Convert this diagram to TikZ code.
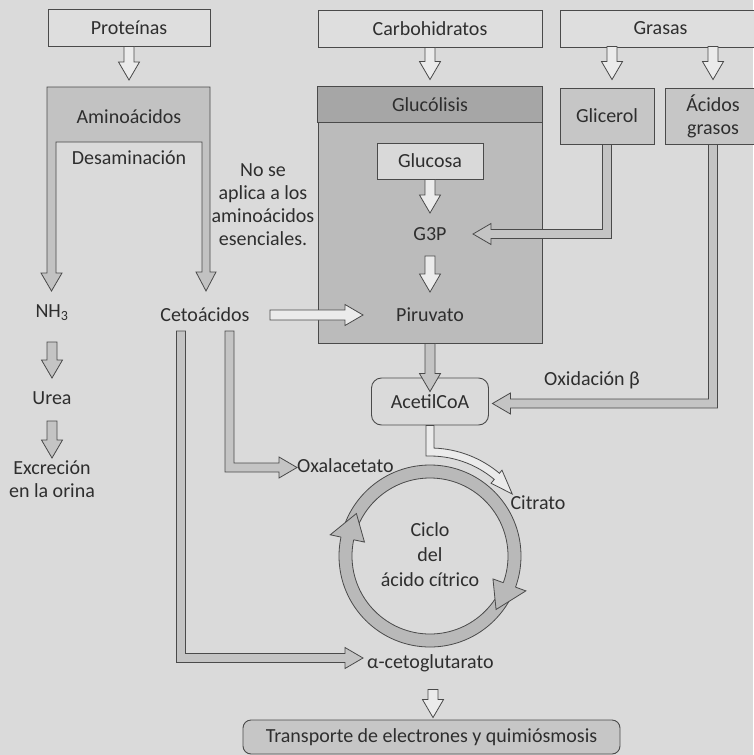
\documentclass[tikz,border=0pt]{standalone}
\usepackage{fontspec}
\setmainfont{Carlito}
\usetikzlibrary{calc}
\definecolor{bg}{HTML}{DADADA}
\definecolor{ink}{HTML}{2E2E2E}
\definecolor{ln}{HTML}{4A4A4A}
\definecolor{lightbox}{HTML}{DEDEDE}
\definecolor{band}{HTML}{C2C2C2}
\definecolor{glyhead}{HTML}{A6A6A6}
\definecolor{glybody}{HTML}{BBBBBB}
\definecolor{glucfill}{HTML}{D9D9D9}
\definecolor{sidebox}{HTML}{C6C6C6}
\definecolor{hollow}{HTML}{EBEBEB}
\definecolor{solid}{HTML}{C4C4C4}
\definecolor{ringfill}{HTML}{B9B9B9}
\definecolor{transfill}{HTML}{C6C6C6}
% vertical block arrow: start, tip
\newcommand{\vba}[3][]{%
 \path[blk,#1] let \p1=#2, \p2=#3, \n1={sign(\y2-\y1)} in
  (\x1-5pt,\y1) -- (\x1-5pt,\y2-\n1*18pt) -- (\x1-10.5pt,\y2-\n1*18pt) -- (\x1,\y2)
  -- (\x1+10.5pt,\y2-\n1*18pt) -- (\x1+5pt,\y2-\n1*18pt) -- (\x1+5pt,\y1) -- cycle;}
% horizontal block arrow: start, tip
\newcommand{\hba}[3][]{%
 \path[blk,#1] let \p1=#2, \p2=#3, \n1={sign(\x2-\x1)} in
  (\x1,\y1-5pt) -- (\x2-\n1*18pt,\y1-5pt) -- (\x2-\n1*18pt,\y1-10.5pt) -- (\x2,\y1)
  -- (\x2-\n1*18pt,\y1+10.5pt) -- (\x2-\n1*18pt,\y1+5pt) -- (\x1,\y1+5pt) -- cycle;}
% elbow block arrow: down from start, then sideways to tip
\newcommand{\eba}[3][]{%
 \path[blk,#1] let \p1=#2, \p2=#3, \n1={sign(\x2-\x1)} in
  (\x1-\n1*4.5pt,\y1) -- (\x1-\n1*4.5pt,\y2-4.5pt) -- (\x2-\n1*18pt,\y2-4.5pt)
  -- (\x2-\n1*18pt,\y2-10.5pt) -- (\x2,\y2) -- (\x2-\n1*18pt,\y2+10.5pt)
  -- (\x2-\n1*18pt,\y2+4.5pt) -- (\x1+\n1*4.5pt,\y2+4.5pt) -- (\x1+\n1*4.5pt,\y1) -- cycle;}
\begin{document}
\begin{tikzpicture}[x=1pt,y=-1pt,
  font=\fontsize{20}{23}\selectfont,
  blk/.style={draw=ln,line width=0.8pt,line join=miter,fill=hollow},
  sol/.style={fill=solid},
  lbl/.style={inner sep=0pt,text=ink,align=center},
  box/.style={draw=ln,line width=0.9pt,inner sep=0pt,text=ink,align=center},
]
\useasboundingbox (0,0) rectangle (753,755);
\fill[bg] (0,0) rectangle (753,755);

% ---------- top boxes ----------
\node[box,fill=lightbox,minimum width=162pt,minimum height=37pt] (prot) at (129,27.5) {Proteínas};
\node[box,fill=lightbox,minimum width=224pt,minimum height=37pt] (carb) at (430,28.5) {Carbohidratos};
\node[box,fill=lightbox,minimum width=201pt,minimum height=37pt] (gras) at (660.5,28.5) {Grasas};

% ---------- glycolysis box ----------
\node[box,fill=glybody,minimum width=224pt,minimum height=256pt] (glyc) at (430,215) {};
\draw[ln,line width=0.9pt,fill=glyhead] (glyc.north west) rectangle ($(glyc.north east)+(0,36)$);
\node[lbl] (glytit) at (430,105) {Glucólisis};
\node[box,fill=glucfill,minimum width=106pt,minimum height=36pt] (gluc) at (430,161) {Glucosa};
\node[lbl] (g3p) at (430,234) {G3P};
\node[lbl] (piru) at (430,315) {Piruvato};

% ---------- side boxes ----------
\node[box,fill=sidebox,minimum width=94pt,minimum height=56pt] (glic) at (607,116) {Glicerol};
\node[box,fill=sidebox,minimum width=96pt,minimum height=56pt,font=\fontsize{20}{23}\selectfont] (acid) at (713,116) {Ácidos\\grasos};

% ---------- aminoacid band ----------
\path[blk,fill=band] (47,87) -- (210,87) -- (210,272) -- (216,272) -- (206,291) -- (196,272)
  -- (202,272) -- (202,142) -- (56,142) -- (56,273) -- (62,273) -- (51.5,291) -- (41,273)
  -- (47,273) -- cycle;
\node[lbl] (amino) at (129,117) {Aminoácidos};
\node[lbl] (desam) at (129,158) {Desaminación};

% ---------- left column ----------
\node[lbl] (nh3) at (52,313) {NH\textsubscript{3}};
\node[lbl] (urea) at (52,398) {Urea};
\node[lbl] (excr) at (52,479) {Excreción\\en la orina};
\node[lbl] (ceto) at (205,315) {Cetoácidos};
\node[lbl] (note) at (263,205) {No se\\aplica a los\\aminoácidos\\esenciales.};

% ---------- cycle ----------
\node[box,fill=none,rounded corners=10pt,minimum width=117pt,minimum height=47pt] (acoa) at (430,401.5) {AcetilCoA};
\node[lbl] (oxid) at (592,380) {Oxidación β};
\node[lbl,anchor=west] (oxal) at (297,466) {Oxalacetato};
\node[lbl] (citr) at (538,503) {Citrato};
\coordinate (ringc) at (430,556);
\node[lbl,anchor=west] (aceto) at (367,663) {α-cetoglutarato};
\node[box,fill=transfill,rounded corners=8pt,minimum width=377pt,minimum height=34pt] (transp) at (431.5,737) {Transporte de electrones y quimiósmosis};

% ---------- block arrows ----------
\vba{(prot.south)}{($(amino.center)+(0,-37)$)}
\vba{(carb.south)}{($(glyc.north)+(0,-7)$)}
\vba{($(glic.north)+(5,-41)$)}{($(glic.north)+(5,-8)$)}
\vba{($(acid.north)+(0,-41)$)}{($(acid.north)+(0,-8)$)}
\vba{(gluc.south)}{($(g3p.center)+(0,-21)$)}
\vba{($(g3p.center)+(0,22)$)}{($(piru.center)+(0,-23)$)}
\hba{($(ceto.center)+(65,0)$)}{($(piru.center)+(-67,0)$)}
\eba[sol]{(glic.south)}{($(g3p.center)+(43,0)$)}
\eba[sol]{(acid.south)}{($(acoa.east)+(3.5,2)$)}
\vba[sol]{(glyc.south)}{($(acoa.north)+(0,14)$)}
\vba[sol]{($(nh3.center)+(0,29)$)}{($(urea.center)+(0,-20)$)}
\vba[sol]{($(urea.center)+(0,23)$)}{($(excr.center)+(0,-21)$)}
\eba[sol]{($(ceto.center)+(24.5,16)$)}{($(oxal.west)+(0,1.5)$)}
\eba[sol]{($(ceto.center)+(-24,16)$)}{($(aceto.west)+(-4,-5)$)}
\vba{($(transp.north)+(1.5,-30)$)}{($(transp.north)+(1.5,-2)$)}

% curved arrow AcetilCoA -> Citrato
\path[blk] ($(acoa.south)+(-4,0)$) -- ($(ringc)+(-92.3:100)$)
  arc[start angle=-92.3,end angle=-50,radius=100]
  -- ($(ringc)+(-50:95)$) -- ($(ringc)+(-37:103)$) -- ($(ringc)+(-50:112)$)
  -- ($(ringc)+(-50:108)$) arc[start angle=-50,end angle=-87.9,radius=108]
  -- ($(acoa.south)+(4,0)$) -- cycle;

% ring
\begin{scope}[shift={(430,556)}]
  \fill[ringfill,even odd rule] (0,0) circle[radius=91] (0,0) circle[radius=78];
  \draw[ln,line width=0.8pt] (0,0) circle[radius=91] (0,0) circle[radius=78];
  \fill[ringfill] (20:91) -- (20:102) -- (39:85) -- (20:67) -- (20:78) -- cycle;
  \draw[ln,line width=0.8pt,line join=miter] (20:91) -- (20:102) -- (39:85) -- (20:67) -- (20:78);
  \fill[ringfill] (192:91) -- (192:102) -- (210:85) -- (192:67) -- (192:78) -- cycle;
  \draw[ln,line width=0.8pt,line join=miter] (192:91) -- (192:102) -- (210:85) -- (192:67) -- (192:78);
\end{scope}
\node[lbl,font=\fontsize{20}{25}\selectfont] (ciclo) at (430,555) {Ciclo\\del\\ácido cítrico};
\end{tikzpicture}
\end{document}
